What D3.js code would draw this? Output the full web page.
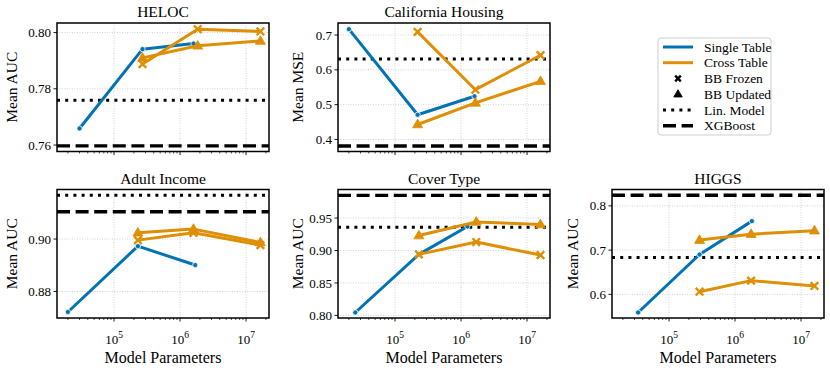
<!DOCTYPE html>
<html>
<head>
<meta charset="utf-8">
<script src="https://cdn.jsdelivr.net/npm/d3@7"></script>
<style>
  body { margin: 0; background: #fff; }
  svg text { font-family: "Times New Roman", "Liberation Serif", "Nimbus Roman", "DejaVu Serif", serif; fill: #000; }
</style>
</head>
<body>
<svg id="chart" width="830" height="370" font-family="Times New Roman, Liberation Serif, DejaVu Serif, serif"></svg>
<script>
// ---- data ----
var datasetNames = ["HELOC", "California Housing", "Adult Income", "Cover Type", "HIGGS"];
var metricNames = ["Mean AUC", "Mean MSE", "Mean AUC", "Mean AUC", "Mean AUC"];

var singleParams = [[3.0e4, 2.7e5, 1.6e6], [2.0e4, 2.2e5, 1.6e6], [2.0e4, 2.3e5, 1.7e6], [2.5e4, 2.3e5, 1.25e6], [3.4e4, 2.9e5, 1.8e6]];
var singleScores = [[0.7659, 0.7941, 0.7961], [0.717, 0.471, 0.524], [0.8722, 0.8973, 0.8901], [0.8045, 0.894, 0.937], [0.559, 0.690, 0.7655]];

var crossParams = [[2.7e5, 1.85e6, 1.65e7], [2.2e5, 1.65e6, 1.6e7], [2.3e5, 1.6e6, 1.65e7], [2.3e5, 1.7e6, 1.6e7], [2.9e5, 1.75e6, 1.6e7]];
var frozenScores = [[0.7888, 0.8012, 0.8004], [0.709, 0.543, 0.642], [0.8996, 0.9024, 0.8977], [0.894, 0.913, 0.893], [0.606, 0.631, 0.619]];
var updatedScores = [[0.791, 0.7953, 0.797], [0.443, 0.505, 0.567], [0.9024, 0.9038, 0.8987], [0.923, 0.944, 0.940], [0.7226, 0.736, 0.744]];

var linModelScores = [0.7759, 0.631, 0.9167, 0.936, 0.6835];
var xgboostScores = [0.7597, 0.381, 0.9104, 0.985, 0.824];

var yLimits = [[0.7577, 0.8034], [0.3654, 0.7346], [0.8699, 0.9189], [0.796, 0.994], [0.5465, 0.837]];
var yTickValues = [[0.76, 0.78, 0.80], [0.4, 0.5, 0.6, 0.7], [0.88, 0.90], [0.80, 0.85, 0.90, 0.95], [0.6, 0.7, 0.8]];
var yTickFormats = [".2f", ".1f", ".2f", ".2f", ".1f"];

var xLimits = [Math.pow(10, 4.136), Math.pow(10, 7.348)];
var xMajorTicks = [1e5, 1e6, 1e7];

var legendLabels = ["Single Table", "Cross Table", "BB Frozen", "BB Updated", "Lin. Model", "XGBoost"];

// ---- layout ----
var blue = "#0173b2", orange = "#de8f05";
var pw = 212;
var cells = [
  {x: 57, y: 23, h: 128.5, bottom: false},
  {x: 338, y: 23, h: 128.5, bottom: false},
  {x: 57, y: 189.5, h: 128.5, bottom: true},
  {x: 338, y: 189.5, h: 128.5, bottom: true},
  {x: 612, y: 189.5, h: 128.5, bottom: true}
];
var ylabelX = [12, 298, 12, 298, 573];

var svg = d3.select("#chart");

var minorTicks = [];
for (var k = 4; k <= 7; k++) {
  for (var m = 2; m <= 9; m++) {
    var v = m * Math.pow(10, k);
    if (v > xLimits[0] && v < xLimits[1]) minorTicks.push(v);
  }
}

function xMarker(g, x, y, r, color) {
  g.append("path")
    .attr("d", `M${x - r},${y - r}L${x + r},${y + r}M${x - r},${y + r}L${x + r},${y - r}`)
    .attr("stroke", color).attr("stroke-width", 2.4).attr("fill", "none");
}
function triMarker(g, x, y, s, color) {
  var hh = s * 0.866;
  g.append("path")
    .attr("d", `M${x},${y - hh * 0.62}L${x + s / 2},${y + hh * 0.38}L${x - s / 2},${y + hh * 0.38}Z`)
    .attr("fill", color).attr("stroke", color).attr("stroke-width", 0.8);
}

datasetNames.forEach(function(name, i) {
  var c = cells[i];
  var g = svg.append("g").attr("transform", `translate(${c.x},${c.y})`);

  var x = d3.scaleLog().domain(xLimits).range([0, pw]);
  var y = d3.scaleLinear().domain(yLimits[i]).range([c.h, 0]);

  // grid
  g.selectAll(".gx").data(xMajorTicks).enter().append("line")
    .attr("x1", d => x(d)).attr("x2", d => x(d))
    .attr("y1", 0).attr("y2", c.h)
    .attr("stroke", "#c8c8c8").attr("stroke-width", 0.8).attr("stroke-dasharray", "1,1.5");
  g.selectAll(".gy").data(yTickValues[i]).enter().append("line")
    .attr("x1", 0).attr("x2", pw)
    .attr("y1", d => y(d)).attr("y2", d => y(d))
    .attr("stroke", "#c8c8c8").attr("stroke-width", 0.8).attr("stroke-dasharray", "1,1.5");

  // reference lines
  g.append("line")
    .attr("x1", 0).attr("x2", pw)
    .attr("y1", y(linModelScores[i])).attr("y2", y(linModelScores[i]))
    .attr("stroke", "#000").attr("stroke-width", 3).attr("stroke-dasharray", "3,5.2");
  g.append("line")
    .attr("x1", 0).attr("x2", pw)
    .attr("y1", y(xgboostScores[i])).attr("y2", y(xgboostScores[i]))
    .attr("stroke", "#000").attr("stroke-width", 3.4).attr("stroke-dasharray", "13,5.6");

  var line = d3.line().x(d => x(d[0])).y(d => y(d[1]));

  // single table
  var sPts = d3.zip(singleParams[i], singleScores[i]);
  g.append("path").datum(sPts).attr("d", line)
    .attr("fill", "none").attr("stroke", blue).attr("stroke-width", 3)
    .attr("stroke-linejoin", "round");
  g.selectAll(".sdot").data(sPts).enter().append("circle")
    .attr("cx", d => x(d[0])).attr("cy", d => y(d[1])).attr("r", 2.6)
    .attr("fill", blue).attr("stroke", "#fff").attr("stroke-width", 0.8);

  // cross table
  var fPts = d3.zip(crossParams[i], frozenScores[i]);
  var uPts = d3.zip(crossParams[i], updatedScores[i]);
  [fPts, uPts].forEach(function(pts) {
    g.append("path").datum(pts).attr("d", line)
      .attr("fill", "none").attr("stroke", orange).attr("stroke-width", 3)
      .attr("stroke-linejoin", "round");
  });
  fPts.forEach(d => xMarker(g, x(d[0]), y(d[1]), 3.8, orange));
  uPts.forEach(d => triMarker(g, x(d[0]), y(d[1]), 10, orange));

  // frame
  g.append("rect").attr("width", pw).attr("height", c.h)
    .attr("fill", "none").attr("stroke", "#000").attr("stroke-width", 1.5);

  // x ticks
  g.selectAll(".xt").data(xMajorTicks).enter().append("line")
    .attr("x1", d => x(d)).attr("x2", d => x(d))
    .attr("y1", c.h).attr("y2", c.h + 3.5)
    .attr("stroke", "#000").attr("stroke-width", 0.9);
  g.selectAll(".xm").data(minorTicks).enter().append("line")
    .attr("x1", d => x(d)).attr("x2", d => x(d))
    .attr("y1", c.h).attr("y2", c.h + 2)
    .attr("stroke", "#000").attr("stroke-width", 0.7);

  if (c.bottom) {
    var lab = g.selectAll(".xl").data(xMajorTicks).enter().append("text")
      .attr("x", d => x(d)).attr("y", c.h + 26)
      .attr("text-anchor", "middle").style("font-size", "13px");
    lab.append("tspan").text("10");
    lab.append("tspan").attr("dy", -6).style("font-size", "9.5px")
      .text(d => Math.round(Math.log10(d)));
    g.append("text").attr("x", pw / 2).attr("y", c.h + 45)
      .attr("text-anchor", "middle").style("font-size", "16px")
      .text("Model Parameters");
  }

  // y ticks
  var fmt = d3.format(yTickFormats[i]);
  g.selectAll(".yt").data(yTickValues[i]).enter().append("line")
    .attr("x1", -3.5).attr("x2", 0)
    .attr("y1", d => y(d)).attr("y2", d => y(d))
    .attr("stroke", "#000").attr("stroke-width", 0.9);
  g.selectAll(".yl").data(yTickValues[i]).enter().append("text")
    .attr("x", -6).attr("y", d => y(d)).attr("dy", "0.35em")
    .attr("text-anchor", "end").style("font-size", "13px")
    .text(d => fmt(d));

  svg.append("text")
    .attr("transform", `translate(${ylabelX[i]},${c.y + c.h / 2}) rotate(-90)`)
    .attr("text-anchor", "middle").attr("dy", "0.35em").style("font-size", "15.5px")
    .text(metricNames[i]);

  g.append("text").attr("x", pw / 2).attr("y", -6)
    .attr("text-anchor", "middle").style("font-size", "15.5px")
    .text(name);
});

// ---- legend ----
var lg = svg.append("g").attr("transform", "translate(658,38)");
lg.append("rect").attr("width", 113).attr("height", 97).attr("rx", 3)
  .attr("fill", "#fff").attr("stroke", "#cfcfcf").attr("stroke-width", 1);
var rowY = [9, 24.7, 40.5, 56.2, 72, 87.7];
legendLabels.forEach(function(label, j) {
  var ry = rowY[j];
  if (j === 0 || j === 1) {
    lg.append("line").attr("x1", 5).attr("x2", 35).attr("y1", ry).attr("y2", ry)
      .attr("stroke", j === 0 ? blue : orange).attr("stroke-width", 3);
  } else if (j === 2) {
    xMarker(lg, 20, ry, 2.8, "#000");
  } else if (j === 3) {
    triMarker(lg, 20, ry, 8.5, "#000");
  } else if (j === 4) {
    lg.append("line").attr("x1", 5).attr("x2", 35).attr("y1", ry).attr("y2", ry)
      .attr("stroke", "#000").attr("stroke-width", 3).attr("stroke-dasharray", "3,5.2");
  } else {
    lg.append("line").attr("x1", 5).attr("x2", 35).attr("y1", ry).attr("y2", ry)
      .attr("stroke", "#000").attr("stroke-width", 3.4).attr("stroke-dasharray", "13,5.6");
  }
  lg.append("text").attr("x", 46).attr("y", ry).attr("dy", "0.35em")
    .style("font-size", "13.5px").text(label);
});
</script>
</body>
</html>
